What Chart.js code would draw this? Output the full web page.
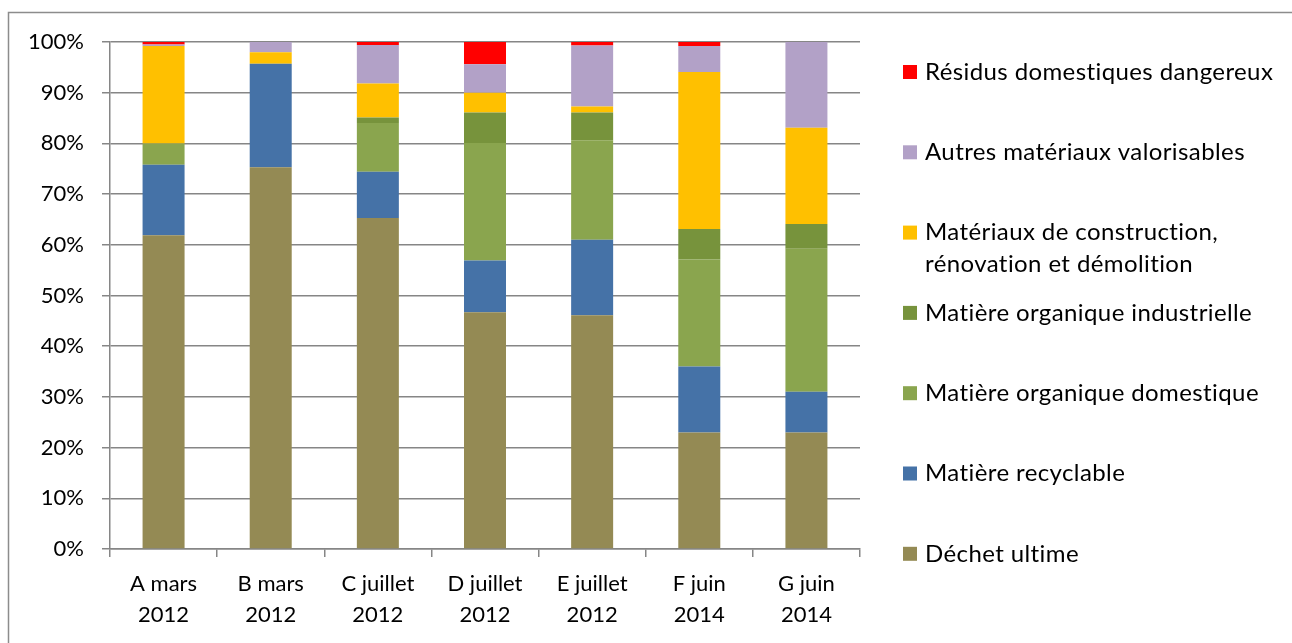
<!DOCTYPE html>
<html>
<head>
<meta charset="utf-8">
<script src="https://cdn.jsdelivr.net/npm/chart.js@4"></script>
<style>
  html, body { margin: 0; padding: 0; background: #fff; }
  #wrap { width: 1292px; height: 643px; position: relative; }
</style>
</head>
<body>
<div id="wrap"><canvas id="wasteChart" width="1292" height="643"></canvas></div>
<script>
// Categories (two-line tick labels)
const sites = [
  ['A mars', '2012'], ['B mars', '2012'], ['C juillet', '2012'], ['D juillet', '2012'],
  ['E juillet', '2012'], ['F juin', '2014'], ['G juin', '2014']
];

// Share of each waste type per site (%)
const dechetUltime     = [61.9, 75.3, 65.3, 46.7, 46.1, 23.0, 23.0];
const recyclable       = [13.9, 20.4,  9.1, 10.2, 14.9, 13.0,  8.0];
const orgDomestique    = [ 4.2,  0.0,  9.6, 23.2, 19.6, 21.1, 28.2];
const orgIndustrielle  = [ 0.0,  0.0,  1.1,  6.0,  5.5,  6.0,  4.9];
const construction     = [19.2,  2.3,  6.7,  3.9,  1.2, 31.0, 19.0];
const autresMateriaux  = [ 0.3,  2.0,  7.6,  5.6, 12.0,  5.1, 16.9];
const residusDangereux = [ 0.5,  0.0,  0.6,  4.4,  0.7,  0.9,  0.0];

const yTicks = [0, 10, 20, 30, 40, 50, 60, 70, 80, 90, 100];

const FONT = 'Lato, "Open Sans", sans-serif';
const FONT_SIZE = 22;

const series = [
  { label: 'Déchet ultime', data: dechetUltime, color: '#948A54' },
  { label: 'Matière recyclable', data: recyclable, color: '#4572A7' },
  { label: 'Matière organique domestique', data: orgDomestique, color: '#8AA54E' },
  { label: 'Matière organique industrielle', data: orgIndustrielle, color: '#77933C' },
  { label: 'Matériaux de construction,\nrénovation et démolition', data: construction, color: '#FFC000' },
  { label: 'Autres matériaux valorisables', data: autresMateriaux, color: '#B2A1C7' },
  { label: 'Résidus domestiques dangereux', data: residusDangereux, color: '#FF0000' }
];

// Draws the outer frame and the legend on the right
const sideLegend = {
  id: 'sideLegend',
  beforeDraw(chart) {
    const ctx = chart.ctx;
    ctx.save();
    ctx.strokeStyle = '#8c8c8c';
    ctx.lineWidth = 1.5;
    ctx.beginPath();
    ctx.moveTo(8.5, 700);
    ctx.lineTo(8.5, 12.5);
    ctx.lineTo(1300, 12.5);
    ctx.stroke();
    ctx.restore();
  },
  afterDraw(chart) {
    const ctx = chart.ctx;
    const sets = chart.data.datasets.slice().reverse();
    const startY = 72;
    const step = 80.3;
    ctx.save();
    ctx.font = '24px ' + FONT;
    if ('letterSpacing' in ctx) ctx.letterSpacing = '0.4px';
    ctx.textBaseline = 'middle';
    ctx.textAlign = 'left';
    sets.forEach((ds, i) => {
      const y = startY + i * step;
      ctx.fillStyle = ds.backgroundColor;
      ctx.fillRect(903, y - 7, 14, 14);
      ctx.fillStyle = '#000';
      ds.label.split('\n').forEach((line, j) => {
        ctx.fillText(line, 925, y + j * 32);
      });
    });
    ctx.restore();
  }
};

new Chart(document.getElementById('wasteChart'), {
  type: 'bar',
  data: {
    labels: sites,
    datasets: series.map(s => ({
      label: s.label,
      data: s.data,
      backgroundColor: s.color,
      borderWidth: 0,
      categoryPercentage: 1,
      barPercentage: 0.392
    }))
  },
  options: {
    responsive: false,
    animation: false,
    layout: {
      padding: { left: 0, right: 432, top: 42, bottom: 0 }
    },
    plugins: {
      legend: { display: false },
      tooltip: { enabled: false }
    },
    scales: {
      x: {
        stacked: true,
        afterFit: scale => { scale.height = 94; },
        grid: {
          offset: true,
          drawOnChartArea: false,
          drawTicks: true,
          tickLength: 8,
          color: '#868686',
          lineWidth: 1.5
        },
        border: { color: '#868686', width: 1.5 },
        ticks: {
          color: '#000',
          padding: 12,
          maxRotation: 0,
          font: { family: FONT, size: FONT_SIZE, lineHeight: 1.4 }
        }
      },
      y: {
        stacked: true,
        min: 0,
        max: 100,
        afterFit: scale => { scale.width = 110; },
        afterBuildTicks: scale => { scale.ticks = yTicks.map(v => ({ value: v })); },
        grid: {
          color: '#868686',
          lineWidth: 1.5,
          tickLength: 8
        },
        border: { color: '#868686', width: 1.5 },
        ticks: {
          color: '#000',
          padding: 18,
          font: { family: FONT, size: FONT_SIZE },
          callback: v => v + '%'
        }
      }
    }
  },
  plugins: [sideLegend]
});
</script>
</body>
</html>
